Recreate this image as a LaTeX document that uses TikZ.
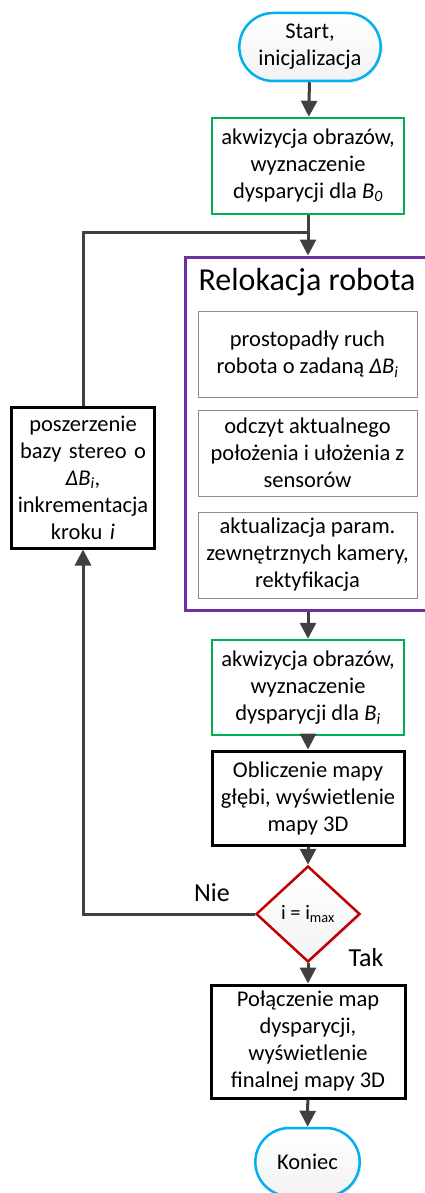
\documentclass[tikz,border=0pt]{standalone}
\usepackage{fontspec}
\setmainfont{Carlito}
\usetikzlibrary{shapes.geometric,shapes.misc,arrows.meta,shadows}
\definecolor{lineg}{HTML}{404040}
\definecolor{stepgreen}{HTML}{00B050}
\definecolor{relpurple}{HTML}{7030A0}
\definecolor{termblue}{HTML}{00B0F0}
\definecolor{decred}{HTML}{C00000}
\newcommand{\subit}[2]{\textit{#1}\textsubscript{\textit{#2}}}
\begin{document}
\begin{tikzpicture}[x=1pt,y=-1pt,
  every node/.style={font=\fontsize{22.5}{27}\selectfont,align=center},
  conn/.style={draw=lineg,line width=3pt},
  arr/.style={conn,-{Triangle[length=16pt,width=16pt]}},
  term/.style={rounded rectangle,draw=termblue,line width=2.5pt,top color=white,bottom color=black!5,
    drop shadow={opacity=0.15,shadow xshift=2pt,shadow yshift=-2pt}},
  greenbox/.style={rectangle,draw=stepgreen,line width=2.5pt,fill=white,minimum width=192pt,minimum height=96pt},
  blackbox/.style={rectangle,draw=black,line width=3pt,fill=white},
  subbox/.style={rectangle,draw=black!45,line width=1pt,fill=white,minimum width=219pt,minimum height=86pt}]
\useasboundingbox (0,0) rectangle (424,1193);
\node[term,minimum width=148pt,minimum height=68pt] (start) at (310, 47) {Start,\\inicjalizacja};
\node[greenbox] (acq0) at (308, 166) {akwizycja obrazów,\\wyznaczenie\\dysparycji dla \subit{B}{0}};
\node[draw=relpurple,line width=3pt,minimum width=243pt,minimum height=353pt] (reloc) at (306.5, 433.5) {};
\node[font=\fontsize{32}{36}\selectfont] (title) at (307, 282) {Relokacja robota};
\node[subbox] (sub1) at (307.5, 354) {prostopadły ruch\\robota o zadaną \subit{ΔB}{i}};
\node[subbox] (sub2) at (307.5, 453) {odczyt aktualnego\\położenia i ułożenia z\\sensorów};
\node[subbox] (sub3) at (307.5, 555) {aktualizacja param.\\zewnętrznych kamery,\\rektyfikacja};
\node[greenbox,minimum height=95pt] (acq) at (308, 687.5) {akwizycja obrazów,\\wyznaczenie\\dysparycji dla \subit{B}{i}};
\node[blackbox,minimum width=192pt,minimum height=94pt] (depth) at (308, 798) {Obliczenie mapy\\głębi, wyświetlenie\\mapy 3D};
\node[diamond,draw=decred,line width=2.5pt,aspect=1.08,inner sep=0pt,minimum width=104pt,minimum height=96pt,
  top color=white,bottom color=black!5,drop shadow={opacity=0.15,shadow xshift=2pt,shadow yshift=-2pt},
  font=\fontsize{20.5}{24}\selectfont] (dec) at (308, 914) {i = i\textsubscript{max}};
\node[blackbox,minimum width=194pt,minimum height=113pt] (merge) at (308, 1041.5) {Połączenie map\\dysparycji,\\wyświetlenie\\finalnej mapy 3D};
\node[term,minimum width=111pt,minimum height=68pt] (stop) at (307.5, 1162) {Koniec};
\node[blackbox,minimum width=142pt,minimum height=141pt,text width=136pt] (widen) at (83, 477.5) {poszerzenie\\bazy stereo o\\\subit{ΔB}{i},\\inkrementacja\\kroku \textit{i}};
\node[font=\fontsize{26}{30}\selectfont] (nie) at (212, 893) {Nie};
\node[font=\fontsize{26}{30}\selectfont] (tak) at (366, 958) {Tak};
\coordinate (j) at (308, 232);
\draw[conn] (acq0) -- (j);
\draw[arr] (j) -- (j |- reloc.north);
\draw[conn] (widen.north) |- (j);
\draw[arr] (start) -- (acq0);
\draw[arr] (reloc.south -| acq.north) -- (acq.north);
\draw[arr] (acq) -- (depth);
\draw[arr] (depth) -- (dec);
\draw[arr] (dec) -- (merge);
\draw[arr] (merge) -- (stop);
\draw[arr] (dec.west) -| (widen.south);
\end{tikzpicture}
\end{document}
